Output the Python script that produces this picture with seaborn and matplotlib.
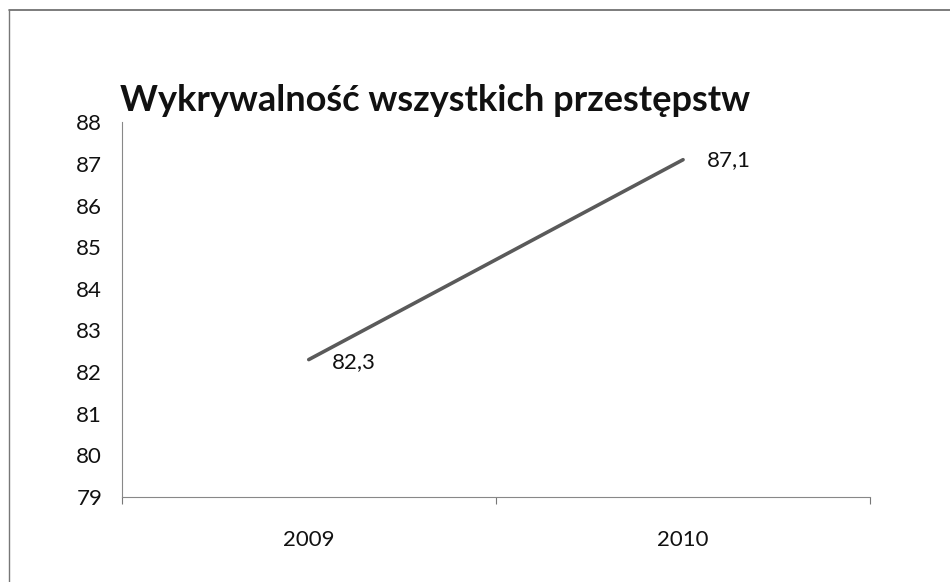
"""Wykrywalnosc wszystkich przestepstw - line chart"""

import matplotlib.pyplot as plt
from matplotlib.lines import Line2D
import pandas as pd
import seaborn as sns

years = ['2009', '2010']
detection = [82.3, 87.1]
value_labels = ['82,3', '87,1']
y_ticks = list(range(79, 89))

df = pd.DataFrame({'rok': years, 'wykrywalnosc': detection})

# --------------------------------------------------------------------------- #
sns.set_style('white')
plt.rcParams['font.family'] = ['Lato', 'DejaVu Sans']

fig = plt.figure(figsize=(9.5, 5.82), dpi=100)
ax = fig.add_axes([0.128, 0.146, 0.788, 0.644])

sns.lineplot(data=df, x='rok', y='wykrywalnosc', color='#5a5a5a',
             linewidth=2.6, ax=ax, sort=False)

# data labels
ax.annotate(value_labels[0], (0, detection[0]), xytext=(17, -1.5),
            textcoords='offset points', fontsize=16, ha='left', va='center',
            color='#111111')
ax.annotate(value_labels[1], (1, detection[1]), xytext=(17, 0),
            textcoords='offset points', fontsize=16, ha='left', va='center',
            color='#111111')

ax.set_xlim(-0.5, 1.5)
ax.set_ylim(79, 88)
ax.set_yticks(y_ticks)
ax.set_yticklabels([str(t) for t in y_ticks])
ax.set_xticks([0, 1])
ax.set_xticklabels(years)
ax.set_xlabel('')
ax.set_ylabel('')

# category boundary tick marks
ax.set_xticks([-0.5, 0.5, 1.5], minor=True)
ax.tick_params(axis='x', which='minor', direction='out', length=5,
               width=0.8, color='#777777', bottom=True)
ax.tick_params(axis='x', which='major', length=0, pad=24, labelsize=16,
               labelcolor='#111111')
ax.tick_params(axis='y', length=0, pad=14, labelsize=16,
               labelcolor='#111111')

for side in ['top', 'right']:
    ax.spines[side].set_visible(False)
for side in ['left', 'bottom']:
    ax.spines[side].set_color('#888888')
    ax.spines[side].set_linewidth(0.8)

fig.text(0.126, 0.828, 'Wykrywalność wszystkich przestępstw', fontsize=26,
         fontweight='bold', color='#111111', ha='left', va='center')

# frame of the chart area (only top and left edges visible)
fig.add_artist(Line2D([0.009, 1.0], [0.983, 0.983], transform=fig.transFigure,
                      color='#666666', linewidth=1.2))
fig.add_artist(Line2D([0.009, 0.009], [0.0, 0.983], transform=fig.transFigure,
                      color='#777777', linewidth=1.0))

fig.savefig('out.png', dpi=100)
